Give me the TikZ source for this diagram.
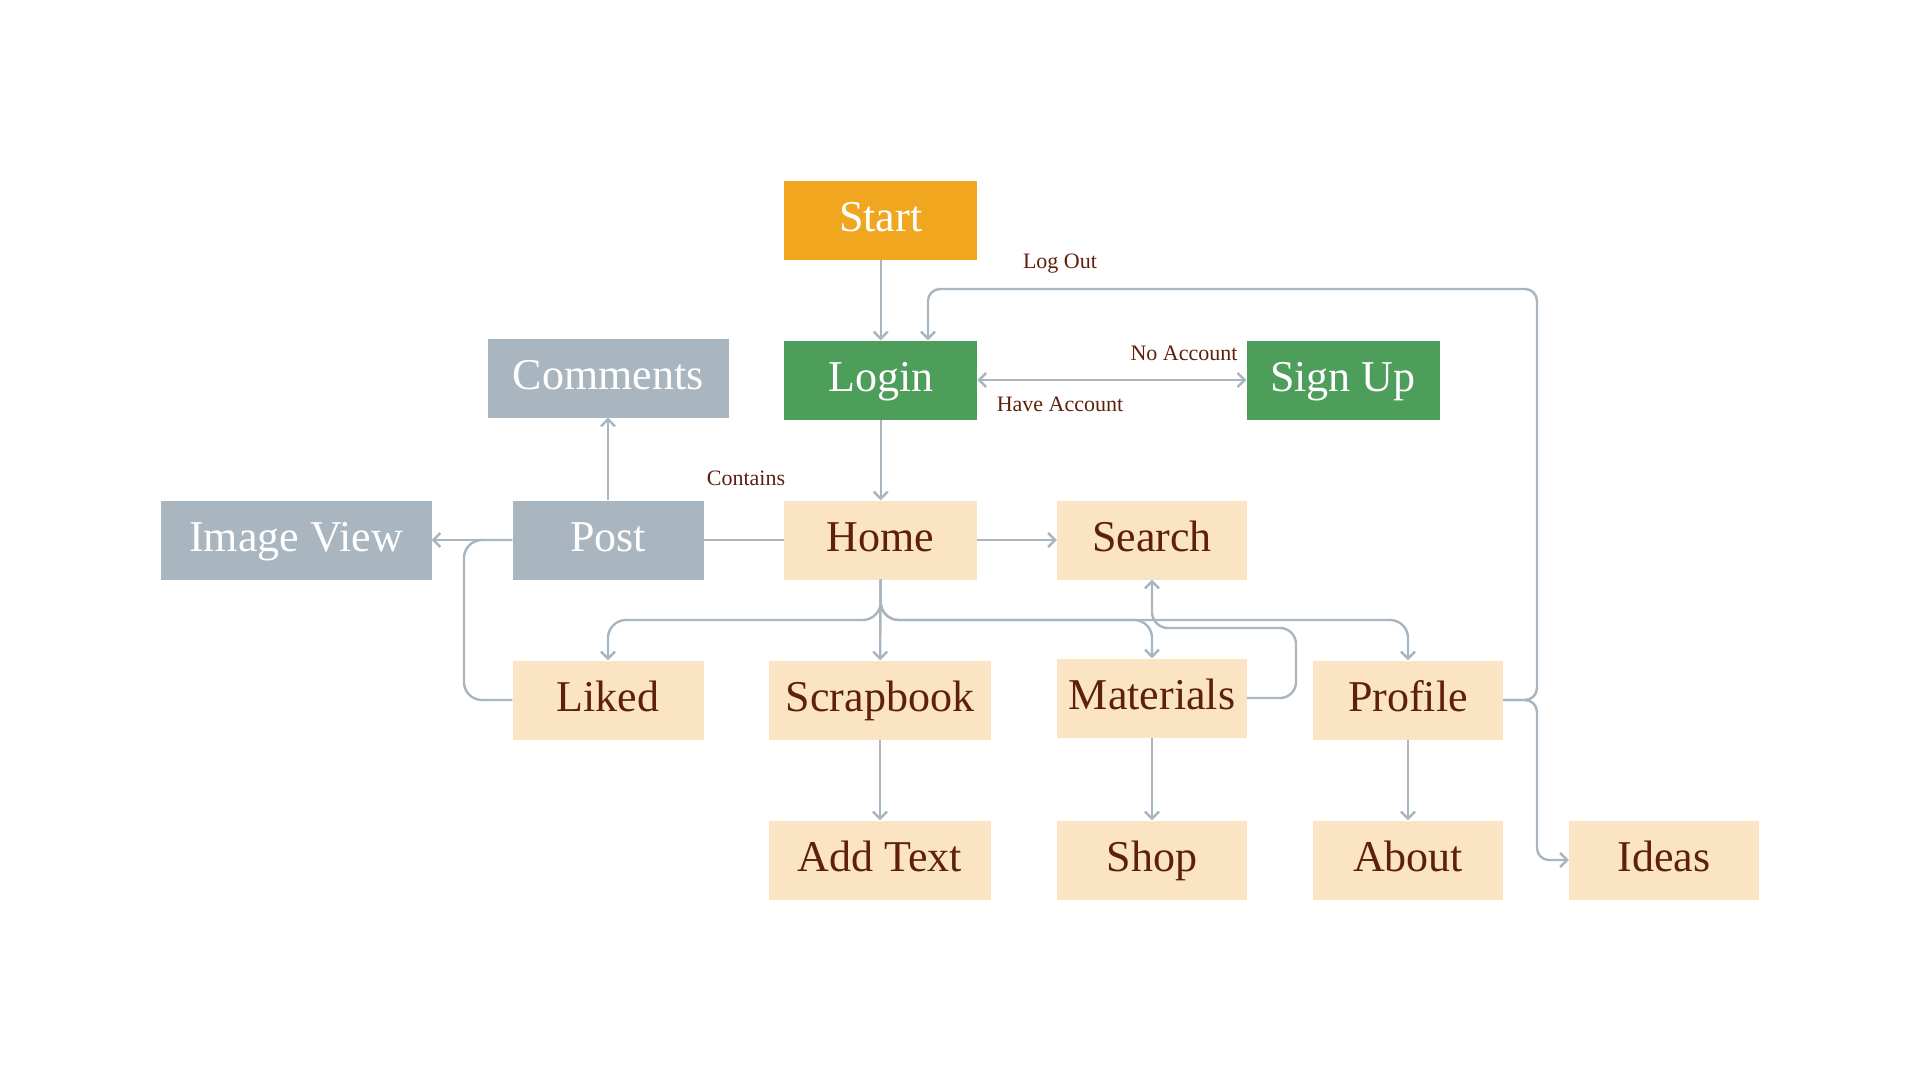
\documentclass[tikz,border=0pt]{standalone}
\usepackage{fontspec}
\setmainfont{Liberation Serif}
\usetikzlibrary{arrows.meta,calc}
\definecolor{cOrange}{HTML}{F0A71F}
\definecolor{cGreen}{HTML}{4E9E5B}
\definecolor{cGray}{HTML}{AAB6BF}
\definecolor{cPeach}{HTML}{FAE4C3}
\definecolor{cBrown}{HTML}{5E200B}
\definecolor{cLine}{HTML}{A9B5BF}
\begin{document}
\begin{tikzpicture}[x=1pt,y=1pt,
 box/.style={minimum width=193pt,minimum height=79pt,inner sep=0pt,font=\fontsize{44}{48}\selectfont,text height=29pt,text depth=6pt},
 orangebox/.style={box,fill=cOrange,text=white},
 greenbox/.style={box,fill=cGreen,text=white},
 graybox/.style={box,fill=cGray,text=white},
 peachbox/.style={box,fill=cPeach,text=cBrown},
 conn/.style={draw=cLine,line width=2.4pt,rounded corners=18pt},
 arr/.style={conn,-{Straight Barb[length=7pt,width=14pt]}},
 biarr/.style={conn,{Straight Barb[length=7pt,width=14pt]}-{Straight Barb[length=7pt,width=14pt]}},
 lbl/.style={font=\fontsize{22}{26}\selectfont,text=cBrown,inner sep=0pt,text height=15pt,text depth=0pt}]
\useasboundingbox (0,0) rectangle (1920,-1080);

\node[orangebox] (Start) at (880.7,-220) {Start};
\node[greenbox] (Login) at (880.7,-380) {Login};
\node[greenbox] (SignUp) at (1343,-380) {Sign Up};
\node[graybox,minimum width=241pt] (Comments) at (608,-378) {Comments};
\node[graybox,minimum width=271pt] (ImageView) at (296,-540) {Image View};
\node[graybox,minimum width=191pt] (Post) at (608,-540) {Post};
\node[peachbox] (Home) at (880.7,-540) {Home};
\node[peachbox,minimum width=190pt] (Search) at (1152,-540) {Search};
\node[peachbox,minimum width=191pt] (Liked) at (608,-700) {Liked};
\node[peachbox,minimum width=222pt] (Scrapbook) at (880,-700) {Scrapbook};
\node[peachbox,minimum width=190pt] (Materials) at (1152,-698) {Materials};
\node[peachbox,minimum width=190pt] (Profile) at (1408,-700) {Profile};
\node[peachbox,minimum width=222pt] (AddText) at (880,-860) {Add Text};
\node[peachbox,minimum width=190pt] (Shop) at (1152,-860) {Shop};
\node[peachbox,minimum width=190pt] (About) at (1408,-860) {About};
\node[peachbox,minimum width=190pt] (Ideas) at (1664,-860) {Ideas};

\node[lbl] (lLog) at (1060,-261) {Log Out};
\node[lbl] (lNo) at (1184,-353) {No Account};
\node[lbl] (lHave) at (1060,-404) {Have Account};
\node[lbl] (lContains) at (746,-478) {Contains};

\draw[arr] (Start) -- (Login);
\draw[arr] (Login) -- (Home);
\draw[biarr] (Login) -- (SignUp);
\draw[arr] (Home) -- (Search);
\draw[conn] (Home) -- (Post);
\draw[arr] (Post) -- (Comments);
\draw[arr] (Post) -- (ImageView);
\draw[conn] (Post.west) -- (464,-540) -- (464,-700) -- (Liked.west);

\draw[arr] (Home.south) -- (880.7,-620) -| (Liked.north);
\draw[arr] (Home) -- (Scrapbook);
\draw[arr] (Home.south) -- (880.7,-620) -| (Materials.north);
\draw[arr] (Home.south) -- (880.7,-620) -| (Profile.north);

\draw[arr,rounded corners=16pt] (Materials.east) -- (1296,-698) -- (1296,-628) -- (1152,-628) -- (Search.south);

\draw[arr,rounded corners=12pt] (Profile.east) -- (1537,-700) -- (1537,-289) -- (928,-289) -- ($(Login.north)+(47.3,0)$);
\draw[arr,rounded corners=12pt] (Profile.east) -- (1537,-700) -- (1537,-860) -- (Ideas.west);

\draw[arr] (Scrapbook) -- (AddText);
\draw[arr] (Materials) -- (Shop);
\draw[arr] (Profile) -- (About);
\end{tikzpicture}
\end{document}
